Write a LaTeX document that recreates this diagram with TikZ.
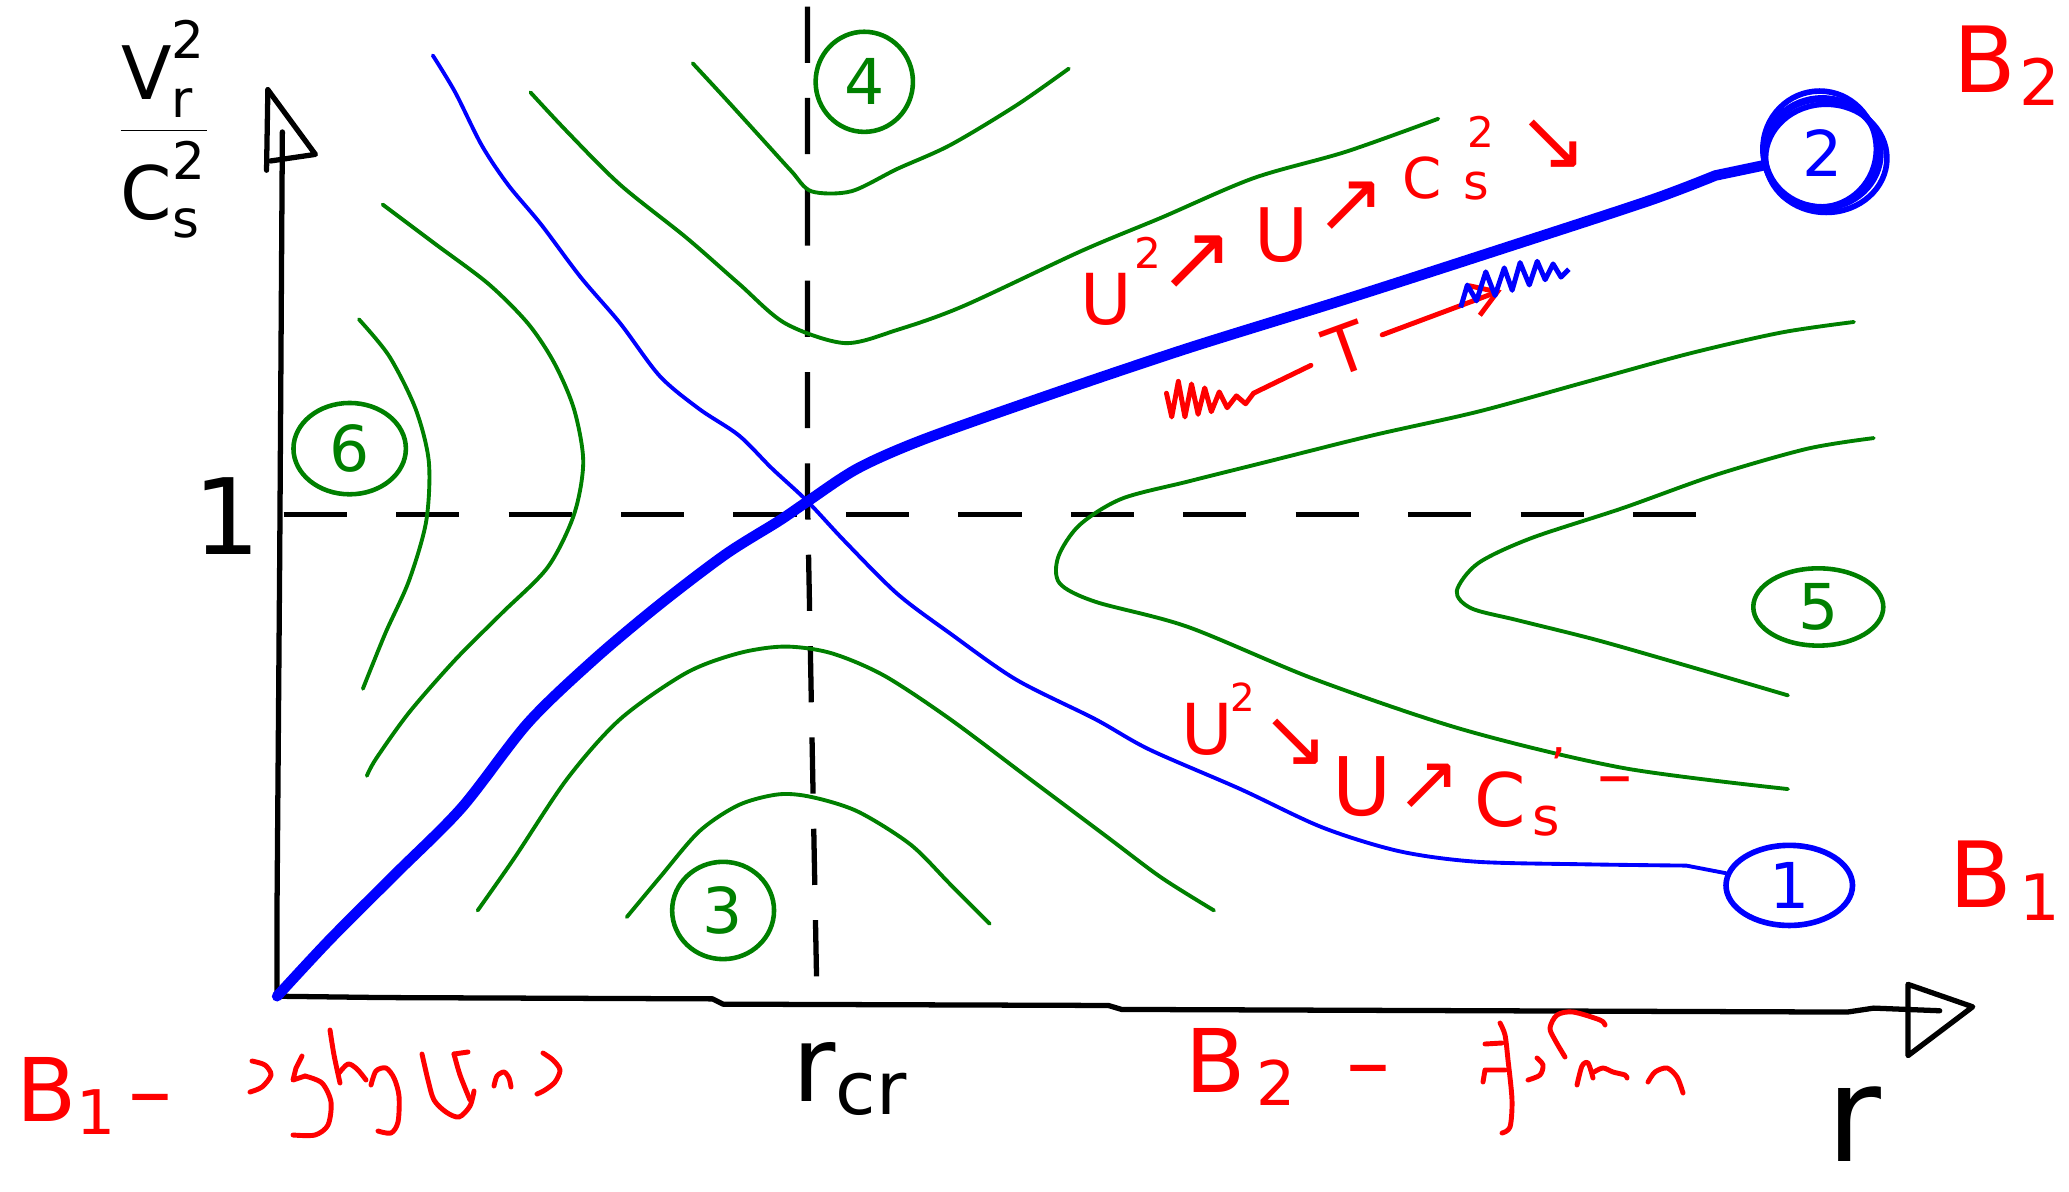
\documentclass[tikz,border=0pt]{standalone}
\usepackage{fontspec}
\setmainfont{DejaVu Sans}
\setsansfont{DejaVu Sans}
\usetikzlibrary{shapes.geometric,arrows.meta}
\definecolor{pgreen}{RGB}{0,128,0}
\definecolor{pblue}{RGB}{0,0,255}
\definecolor{pred}{RGB}{255,0,0}
\newcommand\setfs[1]{\fontsize{#1}{#1}\selectfont}
\begin{document}
\begin{tikzpicture}[x=0.013195cm, y=-0.013195cm,
  axisline/.style={black, line width=1.5pt, line cap=round, line join=round},
  dashline/.style={black, line width=1.5pt, dash pattern=on 18pt off 14pt},
  gcurve/.style={pgreen, line width=1.1pt, line cap=round, line join=round},
  bthin/.style={pblue, line width=1.1pt, line cap=round, line join=round},
  bthick/.style={pblue, line width=3pt, line cap=round, line join=round},
  scrib/.style={pred, line width=1.4pt, line cap=round, line join=round},
  rtxt/.style={text=pred, inner sep=0pt},
  lbl/.style={inner sep=0pt},
  gcirc/.style={ellipse, draw=pgreen, line width=1.3pt, text=pgreen, inner sep=0pt, font=\setfs{18}},
  bcirc/.style={ellipse, draw=pblue, line width=1.6pt, text=pblue, inner sep=0pt, font=\setfs{18}},
]
\fill[white] (0,0) rectangle (1568,903);
\useasboundingbox (0,0) rectangle (1568,903);

% ---- axes
\coordinate (O) at (210,755);
\coordinate (ytop) at (214,100);
\coordinate (xend) at (1470,766);
\draw[axisline] (ytop) -- (213,260) -- (212,420) -- (210,680) -- (O);
\draw[axisline] (O) -- (290,756) -- (540,757) -- (548,761) -- (840,762) -- (850,765) -- (1400,767) -- (1420,764) -- (xend);
\draw[axisline] (203,68) -- (239,117) -- (205,122);
\draw[axisline] (203,68) -- (202,129);
\draw[axisline] (1446,746) -- (1495,763) -- (1446,800) -- cycle;

% ---- dashed guides
\draw[dashline] (215,390) -- (1295,390);
\draw[dashline, dash pattern=on 16pt off 10pt] (612,5) -- (612,380) -- (619,750);

% ---- circled labels
\node[gcirc, minimum width=27.7pt, minimum height=28.5pt] (c4) at (655,62) {4};
\node[gcirc, minimum width=32pt, minimum height=26pt] (c6) at (265,340) {6};
\node[gcirc, minimum width=29pt, minimum height=27.7pt] (c3) at (548,690) {3};
\node[gcirc, minimum width=37pt, minimum height=22pt] (c5) at (1378,460) {5};
\node[bcirc, minimum width=36pt, minimum height=22.8pt] (c1) at (1356,671) {1};
\node[bcirc, line width=2pt, minimum width=33pt, minimum height=31pt] (c2) at (1381,116) {2};
\draw[pblue, line width=1.6pt] ([shift={(3,4)}]c2.center) ellipse [x radius=46, y radius=41];
\draw[pblue, line width=1.6pt] ([shift={(-2,-3)}]c2.center) ellipse [x radius=43, y radius=44];

% ---- green curves
\draw[gcurve] plot[smooth, tension=0.5] coordinates {(525,48) (550,75) (580,108) (600,130) (615,145) (645,145) (680,128) (720,110) (770,80) (810,52)};
\draw[gcurve] plot[smooth, tension=0.5] coordinates {(402,70) (430,100) (470,140) (520,180) (560,215) (595,245) (640,260) (680,250) (730,232) (820,190) (880,165) (950,135) (1020,115) (1090,90)};
\draw[gcurve] plot[smooth, tension=0.5] coordinates {(272,242) (295,270) (315,310) (325,350) (323,395) (310,440) (292,480) (275,522)};
\draw[gcurve] plot[smooth, tension=0.5] coordinates {(290,155) (330,185) (370,215) (400,245) (420,275) (435,310) (442,350) (435,390) (415,430) (380,465) (345,500) (310,540) (285,575) (278,588)};
\draw[gcurve] plot[smooth, tension=0.5] coordinates {(362,690) (390,650) (430,590) (470,545) (520,510) (560,495) (595,490) (630,495) (670,512) (720,545) (780,590) (840,635) (880,665) (920,690)};
\draw[gcurve] plot[smooth, tension=0.5] coordinates {(475,695) (500,665) (530,630) (560,610) (590,602) (615,604) (650,615) (690,640) (720,670) (750,700)};
\draw[gcurve] plot[smooth, tension=0.5] coordinates {(1405,244) (1350,252) (1280,268) (1200,290) (1120,312) (1040,330) (960,350) (900,365) (850,378) (818,398) (802,422) (803,442) (830,456) (900,475) (997,515) (1109,553) (1230,582) (1355,598)};
\draw[gcurve] plot[smooth, tension=0.5] coordinates {(1420,332) (1370,340) (1300,360) (1230,385) (1160,408) (1120,427) (1104,448) (1115,461) (1150,470) (1210,485) (1280,505) (1355,527)};

% ---- blue curves
\draw[bthin] plot[smooth, tension=0.5] coordinates {(328,42) (345,70) (365,110) (385,140) (410,170) (440,210) (470,245) (500,285) (530,310) (560,330) (585,355) (612,380) (640,410) (680,450) (720,480) (770,515) (830,545) (871,568) (940,598) (1002,627) (1060,645) (1118,653) (1200,655) (1278,656)} -- (c1);
\draw[bthick] plot[smooth, tension=0.5] coordinates {(O) (250,712) (300,662) (350,612) (400,548) (450,500) (500,458) (550,420) (590,395) (612,380) (650,355) (700,333) (796,299) (900,264) (1019,227) (1140,188) (1250,152) (1300,133)} -- (c2);

% ---- axis labels
\node[lbl, font=\setfs{21}] (ylab) at (124,98) {$\displaystyle\frac{\mathrm{V}_{\mathrm{r}}^{\mathrm{2}}}{\mathrm{C}_{\mathrm{s}}^{\mathrm{2}}}$};
\node[lbl, font=\setfs{30}] (one) at (172,391) {1};
\node[lbl, font=\setfs{30}, anchor=base west] (rcr) at (600,835) {r\textsubscript{cr}};
\node[lbl, font=\setfs{38}, anchor=base] (rl) at (1405,880) {r};

% ---- red labels
\node[rtxt, font=\setfs{26}, anchor=base west] (Btop) at (1480,70) {B\kern1pt\textsubscript{2}};
\node[rtxt, font=\setfs{26}, anchor=base west] (Bright) at (1477,688) {B\kern2pt\textsubscript{1}};
\node[rtxt, font=\setfs{25}, anchor=base west] (Bbl) at (12,850) {B\textsubscript{1}\kern3pt–};
\node[rtxt, font=\setfs{25}, anchor=base west] (Bbr) at (898,828) {B\kern3pt\textsubscript{2}\kern14pt–};

% upper formula
\node[rtxt, font=\setfs{20}] (ua) at (838,227) {U};
\node[rtxt, font=\setfs{12}] (uas) at (870,192) {2};
\node[rtxt, font=\setfs{26}] (ar1) at (907,199) {↗};
\node[rtxt, font=\setfs{21}] (ub) at (971,178) {U};
\node[rtxt, font=\setfs{24}] (ar2) at (1024,157) {↗};
\node[rtxt, font=\setfs{16}] (ca) at (1078,135) {C};
\node[rtxt, font=\setfs{14}] (sa) at (1119,141) {s};
\node[rtxt, font=\setfs{12}] (sqa) at (1122,100) {2};
\node[rtxt, font=\setfs{24}] (ar3) at (1177,110) {↘};

% lower formula
\node[rtxt, font=\setfs{20}] (uc) at (915,553) {U};
\node[rtxt, font=\setfs{11}] (ucs) at (942,528) {2};
\node[rtxt, font=\setfs{23}] (ar4) at (982,563) {↘};
\node[rtxt, font=\setfs{23}] (ud) at (1032,596) {U};
\node[rtxt, font=\setfs{22}] (ar5) at (1083,596) {↗};
\node[rtxt, font=\setfs{21}] (cb) at (1137,606) {C};
\node[rtxt, font=\setfs{15}] (sb) at (1172,622) {s};
\node[rtxt, font=\setfs{14}] (sqb) at (1181,580) {'};
\node[rtxt, font=\setfs{20}] (dsh) at (1224,597) {–};

% T arrow
\node[rtxt, font=\setfs{19}, rotate=20, inner sep=5pt] (T) at (1020,264) {T};
\coordinate (zz) at (950,298);
\draw[scrib] plot coordinates {(884,298) (888,316) (893,289) (898,316) (903,291) (908,314) (913,294) (918,312) (924,297) (930,309) (937,300) (944,306) (zz)};
\draw[scrib] (zz) -- (T);
\coordinate (tipT) at (1138,220);
\draw[scrib, -{Straight Barb[length=7pt, width=9pt]}] (T) -- (tipT);
\draw[pblue, line width=1.4pt, line join=round] plot coordinates {(1107,233) (1112,216) (1119,228) (1126,206) (1133,224) (1140,203) (1146,220) (1152,199) (1159,216) (1165,198) (1171,212) (1177,200) (1183,210) (1189,204)};

% ---- handwritten words (full-size pixel coordinates)
\begin{scope}[scale=0.75786]
 \draw[scrib] plot[smooth] coordinates {(252,1061) (265,1065) (271,1075) (262,1087) (250,1092)};
 \draw[scrib] (302,1056) -- (296,1068) -- (293,1080) -- (305,1076);
 \draw[scrib] plot[smooth] coordinates {(305,1076) (322,1083) (331,1102) (328,1125) (315,1135) (293,1135)};
 \draw[scrib] plot[smooth] coordinates {(330,1030) (334,1055) (340,1083)};
 \draw[scrib] plot[smooth] coordinates {(339,1073) (348,1064) (357,1069) (366,1080)};
 \draw[scrib] plot[smooth] coordinates {(371,1085) (376,1071) (386,1068) (394,1078) (399,1096) (398,1122) (391,1133) (378,1131)};
 \draw[scrib] plot[smooth] coordinates {(422,1054) (428,1080) (434,1100) (446,1112) (459,1117) (470,1106) (474,1091)};
 \draw[scrib] (468,1052) -- (454,1054);
 \draw[scrib] plot[smooth] coordinates {(454,1054) (460,1075) (470,1100)};
 \draw[scrib] plot[smooth] coordinates {(494,1086) (497,1076) (504,1072) (509,1078) (511,1087)};
 \draw[scrib] plot[smooth] coordinates {(543,1053) (553,1060) (560,1070) (555,1082) (545,1090) (537,1094)};
 \draw[scrib] plot[smooth] coordinates {(1500,1023) (1505,1035) (1508,1060) (1512,1100) (1510,1127) (1502,1133)};
 \draw[scrib] (1485,1044) -- (1502,1043);
 \draw[scrib] (1483,1082) -- (1485,1070) -- (1505,1070);
 \draw[scrib] plot[smooth] coordinates {(1537,1058) (1543,1065) (1540,1075) (1528,1080)};
 \draw[scrib] plot[smooth] coordinates {(1565,1057) (1555,1040) (1550,1028) (1557,1015) (1573,1012) (1600,1020) (1605,1025)};
 \draw[scrib] plot[smooth] coordinates {(1577,1085) (1582,1066) (1588,1063) (1593,1078)};
 \draw[scrib] plot[smooth] coordinates {(1594,1072) (1603,1068) (1613,1072) (1625,1075) (1627,1078)};
 \draw[scrib] plot[smooth] coordinates {(1648,1082) (1655,1072) (1667,1068) (1677,1077) (1683,1093)};
\end{scope}
\end{tikzpicture}
\end{document}
